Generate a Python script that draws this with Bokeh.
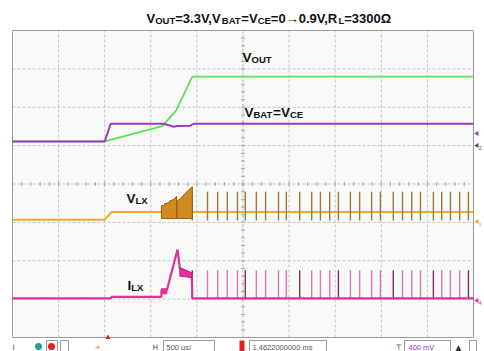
import numpy as np
from bokeh.plotting import figure
from bokeh.models import Range1d
from bokeh.core.properties import value
from bokeh.embed import file_html
from bokeh.resources import INLINE

# ---------------- data (oscilloscope screen divisions: 10 x 8, 500 us/div) ----------------
vout_t = [0.0, 2.00, 3.25, 3.55, 3.90, 10.0]
vout_y = [5.11, 5.11, 5.51, 5.92, 6.80, 6.80]

vbat_t = [0.0, 2.00, 2.13, 3.28, 3.50, 3.57, 3.86, 3.93, 10.0]
vbat_y = [5.11, 5.11, 5.57, 5.57, 5.49, 5.51, 5.52, 5.57, 5.57]

vlx_t = [0.0, 2.00, 2.15, 10.0]
vlx_y = [3.07, 3.07, 3.27, 3.27]

burst1_t = [3.23, 3.30, 3.30, 3.40, 3.40, 3.50, 3.56]
burst1_top = [3.44, 3.44, 3.49, 3.51, 3.55, 3.60, 3.68]
burst2_t = [3.57, 3.65, 3.73, 3.82, 3.90]
burst2_top = [3.56, 3.62, 3.74, 3.84, 3.93]
burst_bottom = 3.10

ilx_t = [0.0, 2.13, 2.15, 3.23, 3.23, 3.35, 3.58, 3.63, 3.89, 3.90, 10.0]
ilx_y = [1.02, 1.02, 1.06, 1.06, 1.22, 1.24, 2.29, 1.80, 1.66, 1.02, 1.02]
ilx_block_t = [3.23, 3.35, 3.35, 3.23]
ilx_block_y = [1.14, 1.14, 1.27, 1.27]
ilx_band_t = [3.63, 3.63, 3.89, 3.89]
ilx_band_y = [1.60, 1.82, 1.68, 1.56]

spike_t = [3.90, 4.23, 4.45, 4.66, 4.88, 5.05, 5.29, 5.49, 5.77, 5.94, 6.23, 6.49, 6.68, 6.88,
           7.07, 7.33, 7.53, 7.79, 7.98, 8.26, 8.46, 8.66, 8.85, 9.13, 9.31, 9.50, 9.70, 9.89]
spike_dark = [1, 0, 0, 0, 0, 1, 0, 0, 0, 0, 1, 0, 0, 0,
              1, 0, 0, 0, 0, 1, 0, 0, 0, 1, 0, 0, 0, 1]
vlx_spike_bottom = 3.05
vlx_spike_top = 3.80
ilx_spike_bottom = 1.00
ilx_spike_top = 1.75

title_parts = [("V", 0), ("OUT", 1), ("=3.3V,V", 0), ("BAT", 1), ("=V", 0), ("CE", 1),
               ("=0\u21920.9V,R", 0), ("L", 1), ("=3300\u03a9", 0)]
lbl_vout = [("V", 0), ("OUT", 1)]
lbl_vbat = [("V", 0), ("BAT", 1), ("=V", 0), ("CE", 1)]
lbl_vlx = [("V", 0), ("LX", 1)]
lbl_ilx = [("I", 0), ("LX", 1)]

timebase_text = "500 us/"
delay_text = "1.4622000000 ms"
trig_level_text = "400 mV"

# ---------------- figure ----------------
PX_X = 46.1
PX_Y = 38.375
W, H = 484, 351
X_LEFT, Y_BOTTOM = 12, 337          # screen position of the graticule corner (px)
x0 = -X_LEFT / PX_X
y0 = -(H - Y_BOTTOM) / PX_Y


def dx(px):
    return (px - X_LEFT) / PX_X


def dy(py):
    return (Y_BOTTOM - py) / PX_Y


p = figure(width=W, height=H, x_range=Range1d(x0, x0 + W / PX_X),
           y_range=Range1d(y0, y0 + H / PX_Y), output_backend="svg",
           toolbar_location=None, min_border=0,
           x_axis_location=None, y_axis_location=None)
p.grid.visible = False
p.outline_line_color = None
p.background_fill_color = "white"
p.border_fill_color = "white"

# screen background
p.quad(left=[0], right=[10], bottom=[0], top=[8], fill_color="#f8faf8", line_color=None)

# graticule
gx = list(range(1, 10))
gy = list(range(1, 8))
p.segment(x0=gx, y0=[0] * len(gx), x1=gx, y1=[8] * len(gx), line_color="#c4c4c4",
          line_width=1, line_dash="3 2")
p.segment(x0=[0] * len(gy), y0=gy, x1=[10] * len(gy), y1=gy, line_color="#c4c4c4",
          line_width=1, line_dash="3 2")
tx = np.arange(0.2, 10, 0.2)
ty = np.arange(0.2, 8, 0.2)
hx = 2.0 / PX_X
hy = 2.0 / PX_Y
p.segment(x0=tx, y0=4 - hy, x1=tx, y1=4 + hy, line_color="#a8a8a8", line_width=1)
p.segment(x0=5 - hx, y0=ty, x1=5 + hx, y1=ty, line_color="#a8a8a8", line_width=1)
p.segment(x0=[5], y0=[0], x1=[5], y1=[8], line_color="#b0b0b0", line_width=1, line_dash="1 3")

# border
p.quad(left=[0], right=[10], bottom=[0], top=[8], fill_color=None, line_color="#9a9a9a",
       line_width=1)

# traces
p.line(vout_t, vout_y, line_color="#5ee05a", line_width=1.8)
p.line(vbat_t, vbat_y, line_color="#9a3cc0", line_width=2)

p.line(vlx_t, vlx_y, line_color="#f0a830", line_width=2)
p.segment(x0=spike_t, y0=vlx_spike_bottom, x1=spike_t, y1=vlx_spike_top,
          line_color="#9c7a3c", line_width=1.4)
for bt, btop in ((burst1_t, burst1_top), (burst2_t, burst2_top)):
    p.patch(bt + bt[::-1], btop + [burst_bottom] * len(bt),
            fill_color="#d08a22", line_color="#9a5c0c", line_width=1)

ilx_spike_col = ["#8a2a68" if d else "#d878b4" for d in spike_dark]
p.segment(x0=spike_t, y0=ilx_spike_bottom, x1=spike_t, y1=ilx_spike_top,
          line_color=ilx_spike_col, line_width=1.4)
p.line(ilx_t, ilx_y, line_color="#e0309a", line_width=2.2)
p.patch(ilx_block_t, ilx_block_y, fill_color="#e0309a", line_color="#e0309a")
p.patch(ilx_band_t, ilx_band_y, fill_color="#e8309e", line_color="#c02080")

# trigger position marker
p.scatter([2.07], [0.0], marker="triangle", size=5, fill_color="#e02020", line_color=None)

# channel markers on the right edge
mk_y = [dy(133), dy(145), dy(221), dy(300)]
mk_c = ["#9a3cc0", "#555555", "#f0a830", "#e0309a"]
p.scatter([dx(476.5)] * 4, mk_y, marker="triangle", angle=np.pi / 2, size=5,
          fill_color=mk_c, line_color=None)
p.text(x=[dx(478)] * 3, y=mk_y[1:], text=["2", "1", "4"], text_font_size="6px",
       text_color=mk_c[1:], text_baseline="top", text_font=value("Liberation Sans"))

# bottom control bar
p.quad(left=[dx(163), dx(249), dx(404), dx(46), dx(60), dx(469)],
       right=[dx(214), dx(326), dx(450), dx(57), dx(68), dx(476)],
       top=[dy(340)] * 6, bottom=[dy(353)] * 6, fill_color="white",
       line_color="#9a9a9a", line_width=1)
p.scatter([dx(38), dx(51)], [dy(346), dy(346)], marker="circle", size=7,
          fill_color=["#1fa0a0", "#e02020"], line_color=None)
p.quad(left=[dx(239)], right=[dx(244)], top=[dy(340)], bottom=[dy(351)],
       fill_color="#e02020", line_color=None)
p.text(x=[dx(166), dx(252), dx(408)], y=[dy(346.5)] * 3,
       text=[timebase_text, delay_text, trig_level_text], text_font_size="7.5px",
       text_color=["#555555", "#555555", "#9a3cc0"], text_baseline="alphabetic",
       text_font=value("Liberation Sans"))
p.text(x=[dx(12), dx(94), dx(152), dx(396), dx(455)], y=[dy(346.5)] * 5,
       text=["I", "\u2600", "H", "T", "\u25b2"], text_font_size="7.5px",
       text_color=["#555555", "#d0b020", "#555555", "#9a3cc0", "#333333"],
       text_baseline="alphabetic", text_font=value("DejaVu Sans"))

# ---------------- texts ----------------
CW = {"V": .667, "O": .778, "U": .722, "T": .611, "B": .722, "A": .722, "C": .722, "E": .667,
      "L": .611, "X": .667, "I": .278, "R": .722, "=": .584, ".": .278, ",": .278,
      "\u03a9": .768, "\u2192": 1.0}


def rich(x, y, parts, main, sub, drop):
    texts, offs, yoffs, sizes = [], [], [], []
    off = 0.0
    for s, is_sub in parts:
        size = sub if is_sub else main
        texts.append(s)
        offs.append(off)
        yoffs.append(drop if is_sub else 0)
        sizes.append(f"{size}px")
        off += sum(CW.get(c, .556) for c in s) * size
    n = len(texts)
    p.text(x=[x] * n, y=[y] * n, text=texts, x_offset=offs, y_offset=yoffs,
           text_font_size=sizes, text_font=value("Liberation Sans"), text_font_style="bold",
           text_color="#111111", text_baseline="alphabetic", text_align="left")


rich(dx(146), dy(18), title_parts, 13, 9.5, 2)
rich(dx(242), dy(57), lbl_vout, 13.5, 9.5, 2)
rich(dx(244), dy(112), lbl_vbat, 13.5, 9.5, 2)
rich(dx(126), dy(198), lbl_vlx, 13.5, 9.5, 2)
rich(dx(127), dy(285), lbl_ilx, 13.5, 9.5, 2)

open("out.html", "w").write(file_html(p, INLINE))
